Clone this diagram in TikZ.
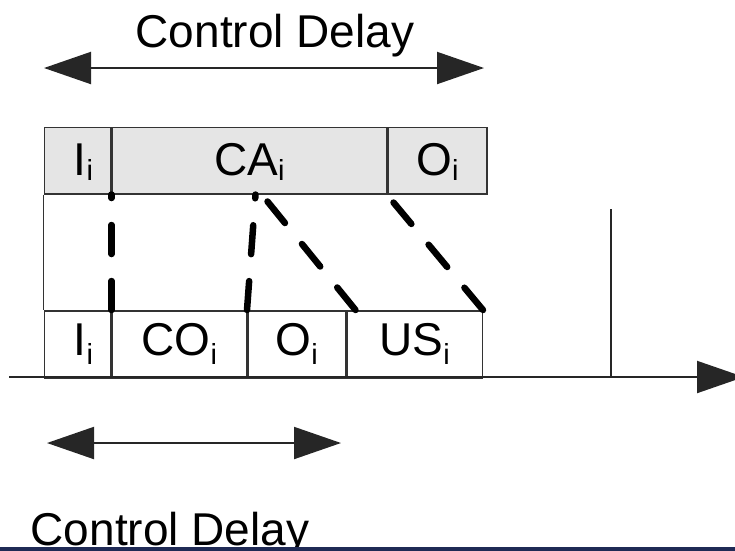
\documentclass[tikz,border=0pt]{standalone}
\usepackage{fontspec}
\setmainfont{Liberation Sans}
\usetikzlibrary{arrows.meta}
\definecolor{barnavy}{RGB}{31,42,85}
\newcommand{\sbi}[1][5pt]{\raisebox{-#1}{\fontsize{29}{29}\selectfont i}}
\tikzset{
  slot/.style={draw=black!80, line width=1.5pt, inner sep=0pt, anchor=north west},
  upslot/.style={slot, fill=black!10, text height=48pt, text depth=18.5pt},
  lowslot/.style={slot, text height=45pt, text depth=22pt},
  bighead/.tip={Triangle[length=47pt,width=32pt]},
  delayarrow/.style={bighead-bighead, line width=2pt, black!85},
  link/.style={line width=6.5pt, line cap=round, dash pattern=on 29pt off 27pt}
}
\begin{document}
\begin{tikzpicture}[x=1pt,y=-1pt,font=\fontsize{46}{55}\selectfont]
  \useasboundingbox (0,0) rectangle (735,550);
  \coordinate (D1a) at (44,68);
  \coordinate (D1b) at (484,68);
  \coordinate (D2a) at (47,443);
  \coordinate (D2b) at (341,443);
  \coordinate (T0) at (9,377);
  \coordinate (T1) at (744,377);
  \coordinate (Tk) at (611,209);

  % CONTROL DELAY (TOP)
  \node[anchor=base] (D1txt) at (275,47) {Control Delay};
  \draw[delayarrow] (D1a) -- (D1b);

  % TASK ROW
  \node[upslot, minimum width=66.5pt] (Iup) at (43.5,126.5) {\hspace*{12pt}I\sbi};
  \node[upslot, minimum width=274.5pt] (CAup) at (Iup.north east) {CA\sbi};
  \node[upslot, minimum width=98.5pt] (Oup) at (CAup.north east) {O\sbi};

  % SCHEDULE ROW
  \node[lowslot, minimum width=66.5pt] (Ilow) at (43.5,310) {\hspace*{12pt}I\sbi[9pt]};
  \node[lowslot, minimum width=134pt] (COlow) at (Ilow.north east) {CO\sbi[9pt]};
  \node[lowslot, minimum width=98pt] (Olow) at (COlow.north east) {O\sbi[9pt]};
  \node[lowslot, minimum width=135pt] (USlow) at (Olow.north east) {US\sbi[9pt]};
  \draw[black!80, line width=1.5pt] (Iup.south west) -- (Ilow.north west);

  % MAPPING
  \draw[link] (Ilow.north east) -- (Iup.south east);
  \draw[link] (COlow.north east) -- ([xshift=6pt]CAup.south);
  \draw[link] ([xshift=9pt]Olow.north east) -- ([xshift=18pt,yshift=-7pt]CAup.south);
  \draw[link] (USlow.north east) -- ([xshift=6pt,yshift=-8pt]Oup.south west);

  % AXIS
  \draw[-bighead, line width=2pt, black!85] (T0) -- (T1);
  \draw[black!85, line width=1.5pt] (Tk) -- (Tk |- T0);

  % CONTROL DELAY (BOTTOM)
  \draw[delayarrow] (D2a) -- (D2b);
  \node[anchor=base] (D2txt) at (170,545) {Control Delay};
  \fill[barnavy] (0,546.5) rectangle (735,552);
\end{tikzpicture}
\end{document}
